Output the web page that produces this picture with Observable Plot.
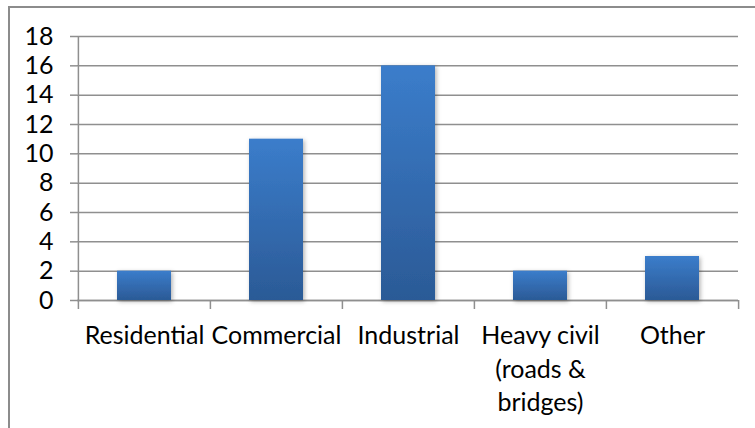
<!DOCTYPE html>
<html><head><meta charset="utf-8">
<script src="https://cdn.jsdelivr.net/npm/d3@7"></script>
<script src="https://cdn.jsdelivr.net/npm/@observablehq/plot@0.6"></script>
<style>
body{margin:0;background:#fff}
#wrap{position:relative;width:755px;height:428px;overflow:hidden;background:#fff}
#border{position:absolute;left:8px;top:6px;width:800px;height:500px;border-top:2px solid #8c8c8c;border-left:2px solid #8c8c8c;}
#chart{position:absolute;left:0;top:0}
</style></head><body>
<div id="wrap"><div id="border"></div><div id="chart"></div></div>
<script>
const categories = ["Residential","Commercial","Industrial","Heavy civil\n(roads &\nbridges)","Other"];
const values = [2, 11, 16, 2, 3];
const yTicks = [0, 2, 4, 6, 8, 10, 12, 14, 16, 18];
const data = categories.map((c, i) => ({category: c, value: values[i]}));

const W = 755, H = 428, mL = 77, mR = 17, mT = 36, mB = 128;
const step = (W - mL - mR) / categories.length;
const font = "Lato, 'Open Sans', sans-serif";
const grid = "#8f8f8f";

const plot = Plot.plot({
  width: W, height: H, marginLeft: mL, marginRight: mR, marginTop: mT, marginBottom: mB,
  style: {fontFamily: font, fontSize: "25px", color: "#000", background: "transparent", overflow: "visible"},
  x: {domain: categories, padding: 0, label: null},
  y: {domain: [0, 18], label: null},
  marks: [
    Plot.gridY(yTicks, {stroke: grid, strokeOpacity: 1, strokeWidth: 1.5}),
    Plot.axisY(yTicks, {tickSize: 7, tickPadding: 17, stroke: grid, strokeWidth: 1.5, fontSize: 25, label: null, tickFormat: d => String(d)}),
    Plot.ruleY([0], {stroke: grid, strokeWidth: 1.5}),
    Plot.ruleX([categories[0]], {dx: -step / 2, y1: 0, y2: 18, stroke: grid, strokeWidth: 1.5}),
    Plot.axisX({tickSize: 9, tickFormat: () => "", dx: -step / 2, stroke: grid, strokeWidth: 1.5, label: null}),
    Plot.axisX([categories[categories.length - 1]], {tickSize: 9, tickFormat: () => "", dx: step / 2, stroke: grid, strokeWidth: 1.5, label: null}),
    Plot.barY(data, {x: "category", y: "value", fill: "url(#barGrad)", insetLeft: 39, insetRight: 39}),
    Plot.axisX({tickSize: 0, tickPadding: 20, fontSize: 25, lineHeight: 1.34, label: null, fill: "#000"})
  ]
});

const svg = d3.select(plot);
const defs = svg.insert("defs", ":first-child");
const g = defs.append("linearGradient").attr("id", "barGrad").attr("x1", 0).attr("y1", 0).attr("x2", 0).attr("y2", 1);
g.append("stop").attr("offset", "0%").attr("stop-color", "#3b7dcb");
g.append("stop").attr("offset", "100%").attr("stop-color", "#2b5a96");
const f = defs.append("filter").attr("id", "shadow").attr("x", "-20%").attr("y", "-20%").attr("width", "150%").attr("height", "150%");
f.append("feDropShadow").attr("dx", 1.5).attr("dy", 1.5).attr("stdDeviation", 2).attr("flood-color", "#000").attr("flood-opacity", 0.3);
svg.selectAll("g[aria-label='bar']").attr("filter", "url(#shadow)");

document.getElementById("chart").appendChild(plot);
</script>
</body></html>
